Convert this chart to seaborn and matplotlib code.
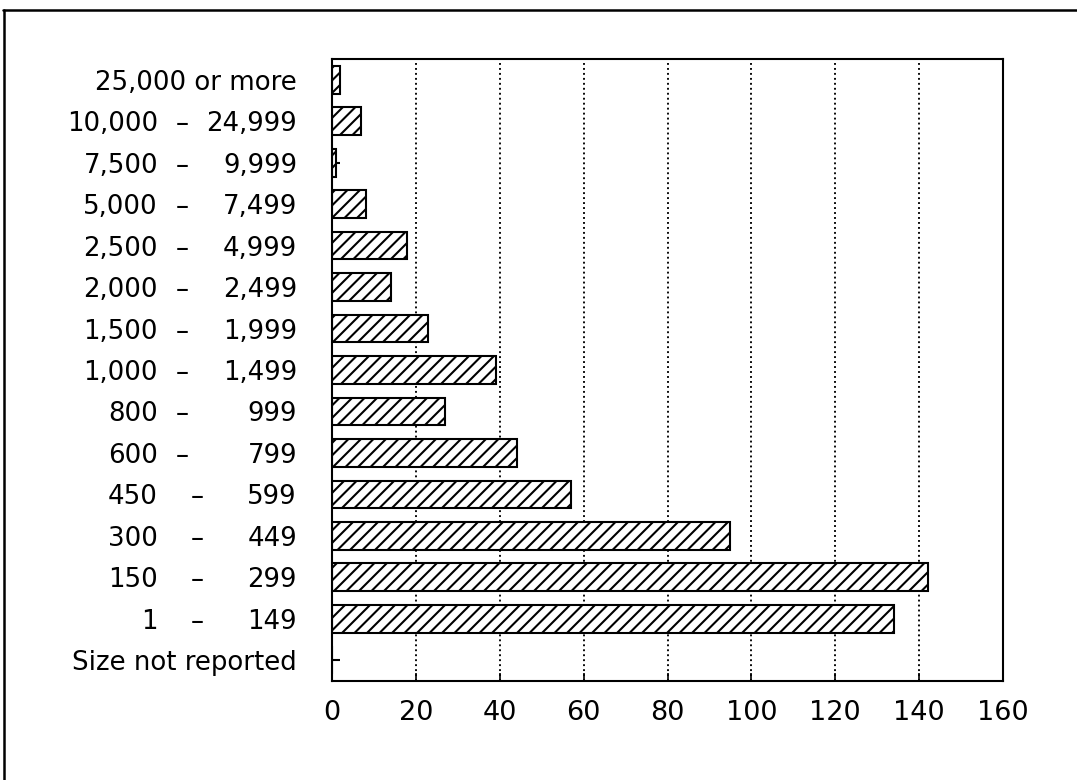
import numpy as np
import pandas as pd
import matplotlib
matplotlib.use("Agg")
import matplotlib.pyplot as plt
from matplotlib.lines import Line2D
import seaborn as sns

# establishments by size class (top to bottom as printed)
size_classes = ["25,000 or more", "10,000 - 24,999", "7,500 - 9,999", "5,000 - 7,499",
                "2,500 - 4,999", "2,000 - 2,499", "1,500 - 1,999", "1,000 - 1,499",
                "800 - 999", "600 - 799", "450 - 599", "300 - 449", "150 - 299",
                "1 - 149", "Size not reported"]
counts = [2, 7, 1, 8, 18, 14, 23, 39, 27, 44, 57, 95, 142, 134, 0]
x_ticks = [0, 20, 40, 60, 80, 100, 120, 140, 160]

df = pd.DataFrame({"size": size_classes, "count": counts})

sns.set_style("white")
plt.rcParams["font.family"] = ["DejaVu Sans"]
plt.rcParams["hatch.linewidth"] = 1.0
plt.rcParams["text.color"] = "black"
plt.rcParams["xtick.color"] = "black"
plt.rcParams["ytick.color"] = "black"
plt.rcParams["axes.labelcolor"] = "black"

fig = plt.figure(figsize=(1077 / 150, 780 / 150), dpi=150)
ax = fig.add_axes([332 / 1077, 1 - 681 / 780, 671 / 1077, 622 / 780])

sns.barplot(data=df, x="count", y="size", orient="h", color="white", saturation=1,
            edgecolor="black", linewidth=1.0, width=0.67, hatch="////", ax=ax)

ax.set_xlim(0, 160)
ax.set_xticks(x_ticks)
ax.set_xticklabels([str(t) for t in x_ticks], fontsize=13)
ax.set_xlabel("")
ax.set_ylabel("")

# vertical dotted grid
for t in x_ticks[1:-1]:
    ax.axvline(t, color="black", linestyle=":", linewidth=0.9, zorder=0)

# split labels: upper number as tick label, lower number + dash drawn to the left
hi_labels = []
trans = ax.get_yaxis_transform()
for i, lab in enumerate(size_classes):
    if " - " in lab:
        lo, hi = lab.split(" - ")
        hi_labels.append(hi)
        ax.text(-174 / 671, i, lo, transform=trans, ha="right", va="center_baseline", fontsize=12.5)
        dash_x = -150 / 671 if int(lo.replace(",", "")) >= 600 else -135 / 671
        ax.text(dash_x, i, "–", transform=trans, ha="center", va="center_baseline", fontsize=12.5)
    else:
        hi_labels.append(lab)
ax.set_yticks(range(len(size_classes)))
ax.set_yticklabels(hi_labels, fontsize=12.5)

ax.tick_params(axis="y", direction="in", length=4, width=1.0, pad=16.8, left=True)
ax.tick_params(axis="x", direction="in", length=4, width=0.8, pad=9, bottom=True)
for s in ax.spines.values():
    s.set_visible(True)
    s.set_color("black")
    s.set_linewidth(1.0)

# scanned page border (top and left)
fig.add_artist(Line2D([3 / 1077, 1], [1 - 10 / 780, 1 - 10 / 780], color="black", linewidth=1.2))
fig.add_artist(Line2D([4 / 1077, 4 / 1077], [0, 1 - 10 / 780], color="black", linewidth=1.2))

fig.savefig("out.png", dpi=150)
